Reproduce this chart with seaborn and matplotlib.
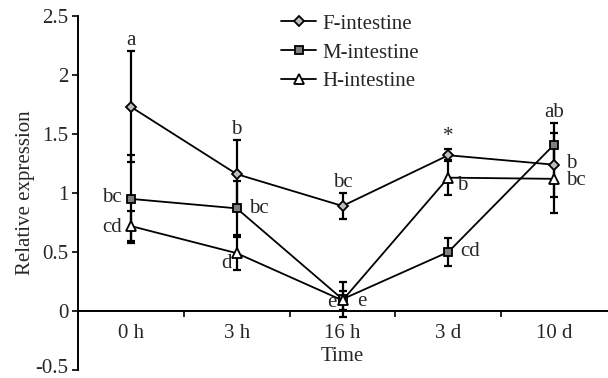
import matplotlib
matplotlib.use("Agg")
import matplotlib.pyplot as plt
import matplotlib.transforms as mtransforms
import seaborn as sns

# =========================================================
# DATA
# =========================================================
times = ["0 h", "3 h", "16 h", "3 d", "10 d"]
series_names = ["F-intestine", "M-intestine", "H-intestine"]

f_mean = [1.73, 1.16, 0.89, 1.32, 1.24]
f_err = [0.47, 0.29, 0.11, 0.05, 0.27]
m_mean = [0.95, 0.87, 0.10, 0.50, 1.41]
m_err = [0.37, 0.23, 0.15, 0.12, 0.18]
h_mean = [0.72, 0.49, 0.09, 1.13, 1.12]
h_err = [0.13, 0.14, 0.08, 0.15, 0.29]

f_sig = ["a", "b", "bc", "*", "b"]
m_sig = ["bc", "bc", "e", "cd", "ab"]
h_sig = ["cd", "d", "e", "b", "bc"]

yticks = [-0.5, 0, 0.5, 1, 1.5, 2, 2.5]
ytick_labels = ["-0.5", "0", "0.5", "1", "1.5", "2", "2.5"]

# =========================================================
# STYLE
# =========================================================
sns.set_theme(style="ticks")
plt.rcParams["font.family"] = ["Liberation Serif", "DejaVu Serif"]
FS = 15

fig, ax = plt.subplots(figsize=(6.08, 3.78), dpi=100)
fig.subplots_adjust(left=78/608, right=607/608, bottom=1-370/378, top=1-16/378)

pos = list(range(len(times)))

styles = [
    dict(marker="D", mfc="#bdbdbd", ms=5.0),
    dict(marker="s", mfc="#808080", ms=6.0),
    dict(marker="^", mfc="white", ms=6.5),
]
means = [f_mean, m_mean, h_mean]
errs = [f_err, m_err, h_err]
sigs = [f_sig, m_sig, h_sig]

# error bars first so markers sit on top
for mean, err in zip(means, errs):
    ax.errorbar(pos, mean, yerr=err, fmt="none", ecolor="black",
                elinewidth=1.6, capsize=3, capthick=1.6, zorder=2)

for name, mean, st in zip(series_names, means, styles):
    sns.lineplot(x=pos, y=mean, ax=ax, color="black", linewidth=1.3,
                 marker=st["marker"], markersize=st["ms"],
                 markerfacecolor=st["mfc"], markeredgecolor="black",
                 markeredgewidth=1.3, label=name, zorder=3)

# significance letters: placement code and small pixel offsets (dx, dy)
place = [
    [("top", 0, 0), ("top", 0, 0), ("top", 0, 0), ("top", 0, 2), ("right", 12, 1)],
    [("left", -9, 1), ("right", 12, 0), ("right", 15, -2), ("right", 12, 0), ("top", 0, 0)],
    [("left", -9, -1), ("left", -5, -10), ("left", -6, -2), ("right", 9, -8), ("right", 12, -2)],
]
px = 1 / 1.389
for mean, err, sig, pl in zip(means, errs, sigs, place):
    for i, (m, e, s, (p, dx, dy)) in enumerate(zip(mean, err, sig, pl)):
        if p == "top":
            ax.annotate(s, (i, m + e), xytext=(0, (1 + dy) * px), textcoords="offset points",
                        ha="center", va="bottom", fontsize=FS)
        else:
            ax.annotate(s, (i, m), xytext=(dx * px, dy * px), textcoords="offset points",
                        ha="right" if p == "left" else "left", va="center", fontsize=FS)

# =========================================================
# AXES
# =========================================================
ax.set_xlim(-0.5, 4.5)
ax.set_ylim(-0.5, 2.5)
ax.spines["bottom"].set_position(("data", 0))
ax.spines["top"].set_visible(False)
ax.spines["right"].set_visible(False)
for sp in ["left", "bottom"]:
    ax.spines[sp].set_linewidth(1.4)
    ax.spines[sp].set_color("black")

ax.set_xticks(pos)
ax.set_xticklabels(times, fontsize=FS)
ax.set_xticks([0.5, 1.5, 2.5, 3.5], minor=True)
ax.tick_params(axis="x", which="major", length=0, pad=9)
ax.tick_params(axis="x", which="minor", length=4, width=1.4, direction="out")
ax.set_yticks(yticks)
ax.set_yticklabels(ytick_labels, fontsize=FS)
ax.tick_params(axis="y", length=4, width=1.4, direction="out", pad=3)

# keep the lowest tick label inside the canvas
lowest = ax.get_yticklabels()[0]
lowest.set_transform(lowest.get_transform() +
                     mtransforms.ScaledTranslation(0, 4 / 100, fig.dpi_scale_trans))

ax.set_xlabel("Time", fontsize=FS, labelpad=3)
ax.set_ylabel("Relative expression", fontsize=FS, labelpad=0)

ax.legend(loc="upper left", bbox_to_anchor=(281/608, 1-14/378),
          bbox_transform=fig.transFigure, frameon=False, fontsize=FS,
          handlelength=1.7, handletextpad=0.3, labelspacing=0.45,
          borderpad=0, borderaxespad=0)

plt.savefig("out.png", dpi=100)
